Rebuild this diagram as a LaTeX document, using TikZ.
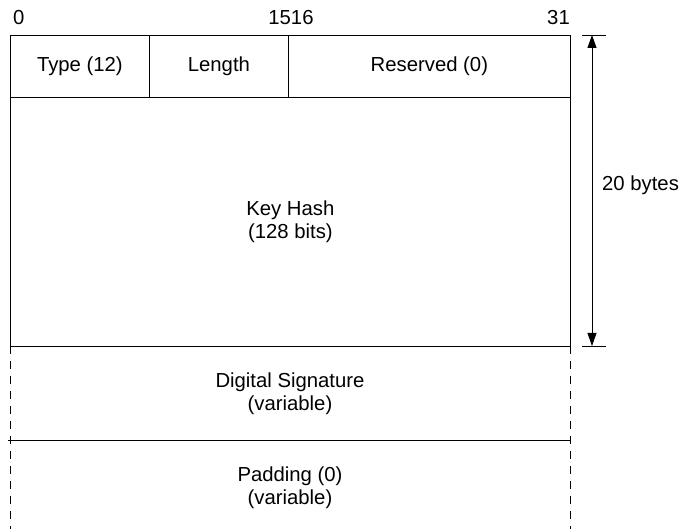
\documentclass[tikz,border=0pt]{standalone}
\usepackage{fontspec}
\setmainfont{Liberation Sans}
\usetikzlibrary{arrows.meta}
\begin{document}
\begin{tikzpicture}[x=1pt,y=-1pt,
  every node/.style={font=\fontsize{20.3}{23}\selectfont, inner sep=0pt},
  cell/.style={draw, line width=0.8pt, rectangle, anchor=north west, align=center},
  lbl/.style={align=center},
  dashedline/.style={line width=0.8pt, dash pattern=on 8pt off 7pt},
  solidline/.style={line width=0.8pt},
  dim/.style={line width=0.8pt, {Triangle[length=13pt,width=9pt]}-{Triangle[length=13pt,width=9pt]}}]
\useasboundingbox (0,0) rectangle (681,529);
% header row
\node[cell, minimum width=139pt, minimum height=62pt] (type) at (10,35) {Type (12)};
\node[cell, minimum width=139pt, minimum height=62pt] (len) at (149,35) {Length};
\node[cell, minimum width=282pt, minimum height=62pt] (res) at (288,35) {Reserved (0)};
% key hash
\node[cell, minimum width=560pt, minimum height=249pt] (hash) at (10,97) {Key Hash\\(128 bits)};
% bit labels
\node[anchor=base west] (b0) at (13,24.5) {0};
\node[anchor=base] (b15) at (291,24.5) {1516};
\node[anchor=base east] (b31) at (570,24.5) {31};
% variable part
\coordinate (dl0) at (10,346);
\coordinate (dl1) at (10,529);
\coordinate (dr0) at (570,346);
\coordinate (dr1) at (570,529);
\draw[dashedline] (dl0) -- (dl1);
\draw[dashedline] (dr0) -- (dr1);
\coordinate (sepl) at (8,440);
\coordinate (sepr) at (570,440);
\draw[solidline] (sepl) -- (sepr);
\node[lbl] (sig) at (290,394) {Digital Signature\\(variable)};
\node[lbl] (pad) at (290,487.5) {Padding (0)\\(variable)};
% dimension
\coordinate (t0) at (582,35);
\coordinate (t1) at (606,35);
\coordinate (u0) at (582,346);
\coordinate (u1) at (606,346);
\draw[solidline] (t0) -- (t1);
\draw[solidline] (u0) -- (u1);
\coordinate (atop) at (592,35);
\coordinate (abot) at (592,346);
\draw[dim] (atop) -- (abot);
\node[anchor=base west] (bytes) at (602,191) {20 bytes};
\end{tikzpicture}
\end{document}
